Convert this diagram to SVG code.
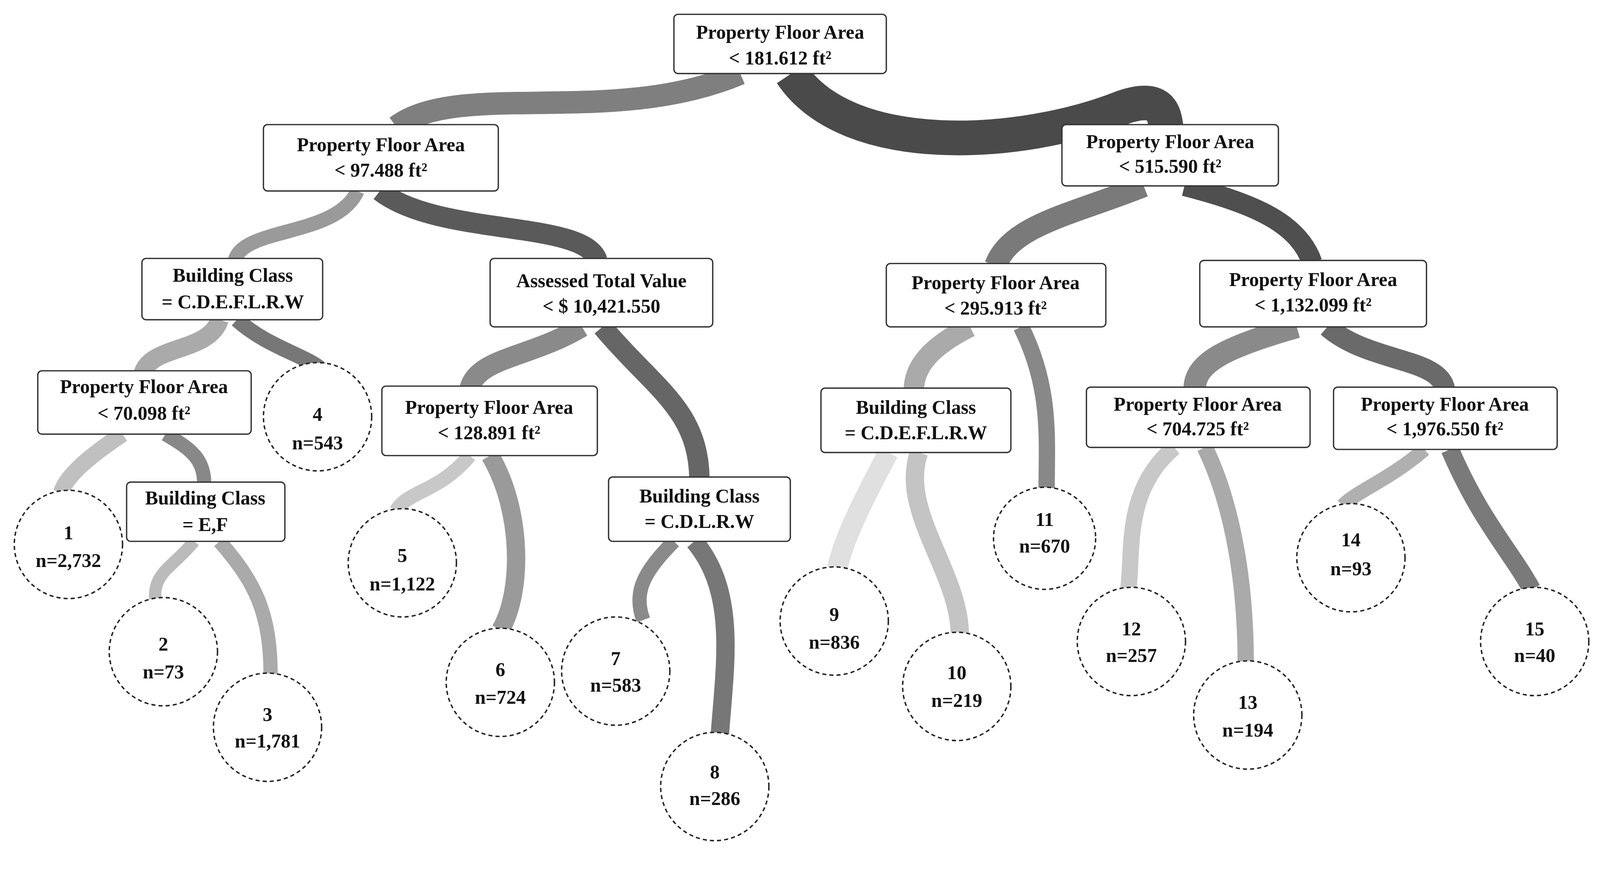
<svg xmlns="http://www.w3.org/2000/svg" width="4218" height="2252" viewBox="0 0 4218 2252">
<style>
.b{fill:#fff;stroke:#333;stroke-width:1.3}
.c{fill:#fff;stroke:#222;stroke-width:1.4;stroke-dasharray:4 3}
text{font-family:"Liberation Serif","Times New Roman",serif;font-weight:bold;font-size:19px;fill:#111;text-anchor:middle}
#edges path{fill:none;stroke-linecap:butt}
</style>
<rect width="4218" height="2252" fill="#fff"/>
<g transform="scale(2.614)">
<g id="edges">
<path d="M725,72 C600,125 450,78 388,124" stroke="#7f7f7f" stroke-width="22"/>
<path d="M775,72 C830,155 1000,145 1100,105 C1138,92 1140,112 1142,124" stroke="#4a4a4a" stroke-width="34"/>
<path d="M350,187 C330,232 238,222 230,255" stroke="#9a9a9a" stroke-width="14"/>
<path d="M372,187 C430,232 572,215 585,255" stroke="#5a5a5a" stroke-width="20"/>
<path d="M215,313 C205,345 148,338 140,365" stroke="#aaa" stroke-width="18"/>
<path d="M232,313 C262,340 300,348 315,362" stroke="#777" stroke-width="15"/>
<path d="M120,425 C90,445 65,465 60,482" stroke="#c0c0c0" stroke-width="16"/>
<path d="M162,425 C188,440 200,450 200,474" stroke="#888" stroke-width="14"/>
<path d="M190,530 C170,555 150,560 152,587" stroke="#bbb" stroke-width="12"/>
<path d="M215,530 C250,570 265,600 265,662" stroke="#aaa" stroke-width="14"/>
<path d="M570,320 C520,350 468,350 460,380" stroke="#8a8a8a" stroke-width="20"/>
<path d="M590,320 C640,380 684,400 685,469" stroke="#666" stroke-width="20"/>
<path d="M460,446 C430,482 400,480 388,500" stroke="#c8c8c8" stroke-width="14"/>
<path d="M480,446 C512,500 512,580 490,617" stroke="#9a9a9a" stroke-width="18"/>
<path d="M660,530 C630,560 620,580 630,607" stroke="#8a8a8a" stroke-width="14"/>
<path d="M680,530 C722,580 710,650 705,719" stroke="#777" stroke-width="18"/>
<path d="M1120,182 C1050,210 990,220 975,260" stroke="#7a7a7a" stroke-width="22"/>
<path d="M1160,182 C1232,200 1272,220 1285,257" stroke="#4f4f4f" stroke-width="20"/>
<path d="M950,320 C910,340 895,360 895,382" stroke="#aaa" stroke-width="20"/>
<path d="M1000,320 C1030,380 1025,430 1025,479" stroke="#888" stroke-width="16"/>
<path d="M870,443 C845,490 825,530 820,557" stroke="#e0e0e0" stroke-width="20"/>
<path d="M900,443 C880,500 940,560 940,622" stroke="#c4c4c4" stroke-width="18"/>
<path d="M1270,320 C1200,340 1170,355 1170,381" stroke="#8a8a8a" stroke-width="22"/>
<path d="M1300,320 C1340,355 1410,350 1415,381" stroke="#6a6a6a" stroke-width="20"/>
<path d="M1150,438 C1100,480 1110,540 1105,577" stroke="#c8c8c8" stroke-width="16"/>
<path d="M1180,438 C1210,500 1220,580 1220,649" stroke="#aaa" stroke-width="16"/>
<path d="M1395,440 C1360,470 1330,480 1315,495" stroke="#b0b0b0" stroke-width="14"/>
<path d="M1420,440 C1450,510 1480,540 1500,577" stroke="#7a7a7a" stroke-width="18"/>
</g>
<g id="n_root"><rect class="b" x="660" y="14" width="208" height="58" rx="4"/><text x="764" y="38">Property Floor Area</text><text x="764" y="63">&lt; 181.612 ft²</text></g>
<g id="n_l1"><rect class="b" x="258" y="122" width="230" height="65" rx="4"/><text x="373" y="148">Property Floor Area</text><text x="373" y="173">&lt; 97.488 ft²</text></g>
<g id="n_r1"><rect class="b" x="1040" y="122" width="212" height="60" rx="4"/><text x="1146" y="145">Property Floor Area</text><text x="1146" y="169">&lt; 515.590 ft²</text></g>
<g id="n_bc1"><rect class="b" x="139" y="253" width="177" height="60" rx="4"/><text x="228" y="276">Building Class</text><text x="228" y="302">= C.D.E.F.L.R.W</text></g>
<g id="n_atv"><rect class="b" x="480" y="253" width="218" height="67" rx="4"/><text x="589" y="281">Assessed Total Value</text><text x="589" y="306">&lt; $ 10,421.550</text></g>
<g id="n_295"><rect class="b" x="868" y="258" width="215" height="62" rx="4"/><text x="975" y="283">Property Floor Area</text><text x="975" y="308">&lt; 295.913 ft²</text></g>
<g id="n_1132"><rect class="b" x="1175" y="255" width="222" height="65" rx="4"/><text x="1286" y="280">Property Floor Area</text><text x="1286" y="305">&lt; 1,132.099 ft²</text></g>
<g id="n_70"><rect class="b" x="37" y="363" width="209" height="62" rx="4"/><text x="141" y="385">Property Floor Area</text><text x="141" y="411">&lt; 70.098 ft²</text></g>
<g id="n_128"><rect class="b" x="374" y="378" width="211" height="68" rx="4"/><text x="479" y="405">Property Floor Area</text><text x="479" y="430">&lt; 128.891 ft²</text></g>
<g id="n_bc2"><rect class="b" x="804" y="380" width="186" height="63" rx="4"/><text x="897" y="405">Building Class</text><text x="897" y="430">= C.D.E.F.L.R.W</text></g>
<g id="n_704"><rect class="b" x="1064" y="379" width="219" height="59" rx="4"/><text x="1173" y="402">Property Floor Area</text><text x="1173" y="426">&lt; 704.725 ft²</text></g>
<g id="n_1976"><rect class="b" x="1306" y="379" width="219" height="61" rx="4"/><text x="1415" y="402">Property Floor Area</text><text x="1415" y="426">&lt; 1,976.550 ft²</text></g>
<g id="n_ef"><rect class="b" x="124" y="472" width="155" height="58" rx="4"/><text x="201" y="494">Building Class</text><text x="201" y="520">= E,F</text></g>
<g id="n_cdlrw"><rect class="b" x="596" y="467" width="178" height="63" rx="4"/><text x="685" y="492">Building Class</text><text x="685" y="517">= C.D.L.R.W</text></g>
<g id="leaf1"><circle class="c" cx="67" cy="533" r="53"/><text x="67" y="528">1</text><text x="67" y="555">n=2,732</text></g>
<g id="leaf2"><circle class="c" cx="160" cy="638" r="53"/><text x="160" y="637">2</text><text x="160" y="664">n=73</text></g>
<g id="leaf3"><circle class="c" cx="262" cy="712" r="53"/><text x="262" y="706">3</text><text x="262" y="732">n=1,781</text></g>
<g id="leaf4"><circle class="c" cx="311" cy="408" r="53"/><text x="311" y="412">4</text><text x="311" y="440">n=543</text></g>
<g id="leaf5"><circle class="c" cx="394" cy="551" r="53"/><text x="394" y="550">5</text><text x="394" y="578">n=1,122</text></g>
<g id="leaf6"><circle class="c" cx="490" cy="668" r="53"/><text x="490" y="662">6</text><text x="490" y="689">n=724</text></g>
<g id="leaf7"><circle class="c" cx="603" cy="657" r="53"/><text x="603" y="651">7</text><text x="603" y="677">n=583</text></g>
<g id="leaf8"><circle class="c" cx="700" cy="770" r="53"/><text x="700" y="762">8</text><text x="700" y="788">n=286</text></g>
<g id="leaf9"><circle class="c" cx="817" cy="608" r="53"/><text x="817" y="608">9</text><text x="817" y="635">n=836</text></g>
<g id="leaf10"><circle class="c" cx="937" cy="672" r="53"/><text x="937" y="665">10</text><text x="937" y="692">n=219</text></g>
<g id="leaf11"><circle class="c" cx="1023" cy="527" r="50"/><text x="1023" y="515">11</text><text x="1023" y="541">n=670</text></g>
<g id="leaf12"><circle class="c" cx="1108" cy="628" r="53"/><text x="1108" y="622">12</text><text x="1108" y="648">n=257</text></g>
<g id="leaf13"><circle class="c" cx="1222" cy="700" r="53"/><text x="1222" y="694">13</text><text x="1222" y="721">n=194</text></g>
<g id="leaf14"><circle class="c" cx="1323" cy="546" r="53"/><text x="1323" y="535">14</text><text x="1323" y="563">n=93</text></g>
<g id="leaf15"><circle class="c" cx="1503" cy="628" r="53"/><text x="1503" y="622">15</text><text x="1503" y="648">n=40</text></g>
</g>
</svg>
